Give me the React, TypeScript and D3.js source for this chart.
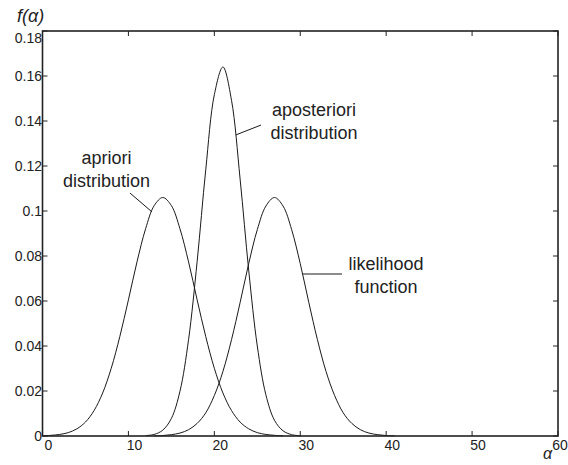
import React from "react";
import * as d3 from "d3";

// Prior density f(α), sampled at integer α
const aprioriAlpha = [0, 1, 2, 3, 4, 5, 6, 7, 8, 9, 10, 11, 12, 13, 14, 15, 16, 17, 18, 19, 20, 21, 22, 23, 24, 25, 26, 27, 28];
const aprioriValues = [0.0001, 0.0003, 0.0007, 0.0015, 0.0032, 0.0062, 0.0113, 0.0191, 0.0301, 0.0442, 0.0605, 0.0774, 0.0921, 0.1024, 0.106, 0.1024, 0.0921, 0.0774, 0.0605, 0.0442, 0.0301, 0.0191, 0.0113, 0.0062, 0.0032, 0.0015, 0.0007, 0.0003, 0.0001];

// Posterior density
const aposterioriAlpha = [12, 13, 14, 15, 16, 17, 18, 19, 20, 21, 22, 23, 24, 25, 26, 27, 28, 29, 30];
const aposterioriValues = [0.0002, 0.0007, 0.0026, 0.0078, 0.0199, 0.0428, 0.0776, 0.1183, 0.1517, 0.164, 0.1492, 0.1142, 0.0737, 0.04, 0.0183, 0.007, 0.0023, 0.0006, 0.0001];

// Likelihood function
const likelihoodAlpha = [13, 14, 15, 16, 17, 18, 19, 20, 21, 22, 23, 24, 25, 26, 27, 28, 29, 30, 31, 32, 33, 34, 35, 36, 37, 38, 39, 40, 41];
const likelihoodValues = [0.0001, 0.0002, 0.0006, 0.0013, 0.0028, 0.0056, 0.0103, 0.018, 0.0287, 0.0428, 0.0593, 0.0766, 0.0917, 0.1022, 0.106, 0.1022, 0.0917, 0.0766, 0.0593, 0.0428, 0.0287, 0.018, 0.0103, 0.0056, 0.0028, 0.0013, 0.0006, 0.0002, 0.0001];

const xTicks = [0, 10, 20, 30, 40, 50, 60];
const yTicks = [0, 0.02, 0.04, 0.06, 0.08, 0.1, 0.12, 0.14, 0.16, 0.18];
const yTickLabels = ["0", "0.02", "0.04", "0.06", "0.08", "0.1", "0.12", "0.14", "0.16", "0.18"];

// Curve annotations: text block (center α, first baseline value) and leader line
const annotationLines = [
  ["apriori", "distribution"],
  ["aposteriori", "distribution"],
  ["likelihood", "function"],
];
const annotationText = [
  [7.45, 0.1209],
  [31.6, 0.1422],
  [39.98, 0.0738],
];
const annotationLeader = [
  [10.18, 0.108, 12.74, 0.0996],
  [25.43, 0.1382, 22.5, 0.1338],
  [34.86, 0.072, 30.32, 0.072],
];

const W = 568;
const H = 465;
const left = 42.5;
const right = 558;
const top = 31;
const bottom = 436;

export default function App() {
  const x = d3.scaleLinear().domain([0, 60]).range([left, right]);
  const y = d3.scaleLinear().domain([0, 0.18]).range([bottom, top]);

  const line = d3
    .line<[number, number]>()
    .x((d) => x(d[0]))
    .y((d) => y(d[1]))
    .curve(d3.curveCatmullRom.alpha(0.5));

  const series = [
    d3.zip(aprioriAlpha, aprioriValues) as [number, number][],
    d3.zip(aposterioriAlpha, aposterioriValues) as [number, number][],
    d3.zip(likelihoodAlpha, likelihoodValues) as [number, number][],
  ];

  const tickLen = 5;
  const axisColor = "#222";
  const font = "'Liberation Sans', Arial, sans-serif";

  return (
    <svg
      width={W}
      height={H}
      style={{ position: "absolute", left: 0, top: 0, background: "#fff" }}
      fontFamily={font}
    >
      <rect x={0} y={0} width={W} height={H} fill="#fff" />

      {/* curves */}
      {series.map((s, i) => (
        <path key={i} d={line(s) || ""} fill="none" stroke="#1a1a1a" strokeWidth={1} />
      ))}

      {/* ticks on all four sides, pointing inward */}
      {xTicks.map((t) => (
        <g key={"xt" + t} stroke={axisColor} strokeWidth={1}>
          <line x1={x(t)} x2={x(t)} y1={bottom} y2={bottom - tickLen} />
          <line x1={x(t)} x2={x(t)} y1={top} y2={top + tickLen} />
        </g>
      ))}
      {yTicks.map((t) => (
        <g key={"yt" + t} stroke={axisColor} strokeWidth={1}>
          <line x1={left} x2={left + tickLen} y1={y(t)} y2={y(t)} />
          <line x1={right} x2={right - tickLen} y1={y(t)} y2={y(t)} />
        </g>
      ))}

      {/* axes box */}
      <rect
        x={left}
        y={top}
        width={right - left}
        height={bottom - top}
        fill="none"
        stroke={axisColor}
        strokeWidth={1.6}
      />

      {/* x tick labels */}
      {xTicks.map((t) => (
        <text
          key={"xl" + t}
          x={Math.min(x(t) + 6, 560)}
          y={450}
          fontSize={14}
          textAnchor="middle"
          fill="#222"
        >
          {t}
        </text>
      ))}

      {/* y tick labels */}
      {yTicks.map((t, i) => (
        <text
          key={"yl" + t}
          x={left - 0.5}
          y={Math.max(y(t), 38) + 5}
          fontSize={14}
          textAnchor="end"
          fill="#222"
        >
          {yTickLabels[i]}
        </text>
      ))}

      {/* axis titles */}
      <text x={17} y={22} fontSize={18} fontStyle="italic" fill="#222">
        f(α)
      </text>
      <text x={543} y={459} fontSize={16} fontStyle="italic" fill="#222">
        α
      </text>

      {/* annotations */}
      {annotationLines.map((lines, i) => (
        <g key={"ann" + i}>
          {lines.map((txt, j) => (
            <text
              key={j}
              x={x(annotationText[i][0])}
              y={y(annotationText[i][1]) + j * 23}
              fontSize={18}
              textAnchor="middle"
              fill="#222"
            >
              {txt}
            </text>
          ))}
          <line
            x1={x(annotationLeader[i][0])}
            y1={y(annotationLeader[i][1])}
            x2={x(annotationLeader[i][2])}
            y2={y(annotationLeader[i][3])}
            stroke="#1a1a1a"
            strokeWidth={1}
          />
        </g>
      ))}
    </svg>
  );
}
